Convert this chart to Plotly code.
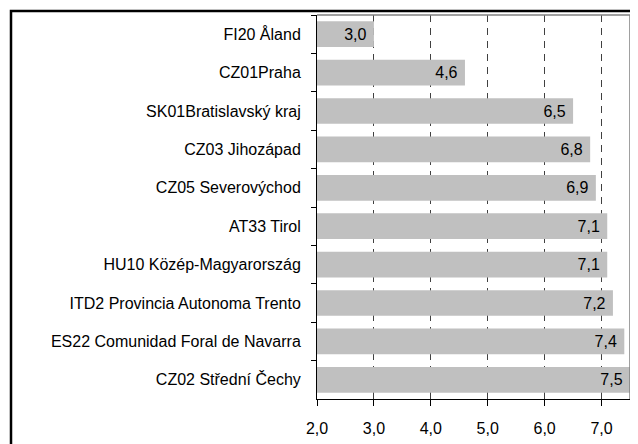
import plotly.graph_objects as go

categories = [
    "FI20 Åland",
    "CZ01Praha",
    "SK01Bratislavský kraj",
    "CZ03 Jihozápad",
    "CZ05 Severovýchod",
    "AT33 Tirol",
    "HU10 Közép-Magyarország",
    "ITD2 Provincia Autonoma Trento",
    "ES22 Comunidad Foral de Navarra",
    "CZ02 Střední Čechy",
]
values = [3.0, 4.6, 6.5, 6.8, 6.9, 7.1, 7.1, 7.2, 7.4, 7.5]
x_ticks = [2.0, 3.0, 4.0, 5.0, 6.0, 7.0]

FONT = "Liberation Sans, Arial, sans-serif"
FS = 16

# the page body has an 8px margin, so the figure is drawn 8px smaller
OFF = 8
W, H = 638 - OFF, 444 - OFF
L, R, T, B = 317 - OFF, 630 - OFF, 15 - OFF, 404 - OFF  # plot area
pw, ph = R - L, B - T

def px_x(p):
    return (p - OFF - L) / pw

def px_y(p):
    return (B - (p - OFF)) / ph

fig = go.Figure()
fig.add_trace(go.Bar(
    x=values,
    y=categories,
    orientation="h",
    marker=dict(color="#c0c0c0", line=dict(width=0)),
    texttemplate="%{x:.1f}\u00a0",
    textposition="inside",
    insidetextanchor="end",
    textfont=dict(family=FONT, size=FS, color="black"),
    hoverinfo="skip",
))

fig.update_layout(
    width=W, height=H,
    margin=dict(l=L, r=W - R, t=T, b=H - B, pad=0),
    paper_bgcolor="white",
    plot_bgcolor="white",
    separators=", ",
    bargap=0.33,
    showlegend=False,
    font=dict(family=FONT, size=FS, color="black"),
    xaxis=dict(
        range=[2.0, 7.5],
        tickvals=x_ticks,
        tickformat=".1f",
        showgrid=True,
        gridcolor="#404040",
        griddash="7px,6px",
        gridwidth=1,
        zeroline=False,
        showline=True,
        linecolor="black",
        linewidth=1,
        ticks="outside",
        ticklen=6,
        tickcolor="black",
        ticklabelstandoff=9,
        tickfont=dict(family=FONT, size=FS, color="black"),
        fixedrange=True,
    ),
    yaxis=dict(
        autorange="reversed",
        showgrid=False,
        zeroline=False,
        showline=True,
        linecolor="black",
        linewidth=1,
        ticks="outside",
        tickson="boundaries",
        ticklen=5,
        tickcolor="black",
        ticklabelstandoff=12,
        tickfont=dict(family=FONT, size=FS, color="black"),
        fixedrange=True,
    ),
    shapes=[
        dict(type="line", xref="paper", yref="paper", x0=0, x1=1, y0=1, y1=1,
             line=dict(color="#808080", width=1.5)),
        dict(type="line", xref="paper", yref="paper", x0=1, x1=1, y0=0, y1=1,
             line=dict(color="#808080", width=1.5)),
        dict(type="rect", xref="paper", yref="paper",
             x0=px_x(11), x1=px_x(660), y0=px_y(470), y1=px_y(11),
             line=dict(color="black", width=2.5), fillcolor="rgba(0,0,0,0)"),
    ],
)

fig.write_html("out.html", config={"displayModeBar": False})
